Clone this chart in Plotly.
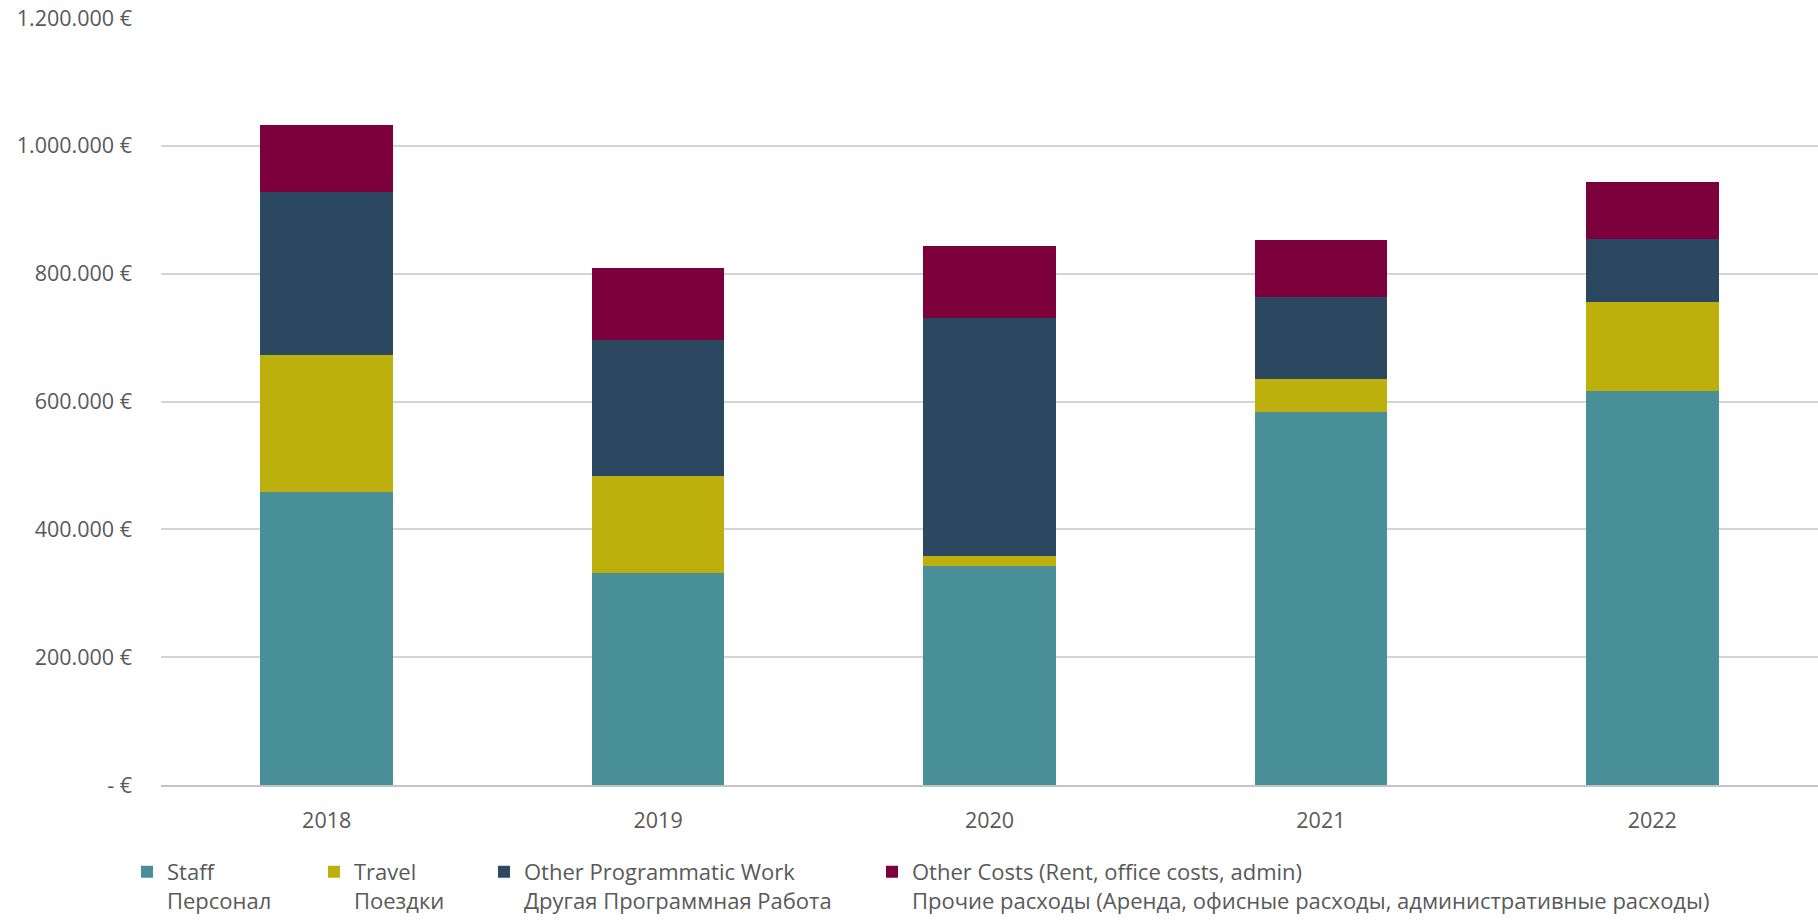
import plotly.graph_objects as go

years = ["2018", "2019", "2020", "2021", "2022"]
staff = [459000, 331000, 343000, 584000, 616000]
travel = [213000, 152000, 15000, 51000, 139000]
other_prog = [255000, 213000, 372000, 129000, 100000]
other_costs = [105000, 113000, 113000, 89000, 89000]

series_names = [
    "Staff<br>Персонал",
    "Travel<br>Поездки",
    "Other Programmatic Work<br>Другая Программная Работа",
    "Other Costs (Rent, office costs, admin)<br>Прочие расходы (Аренда, офисные расходы, административные расходы)",
]
series_colors = ["#488F98", "#BDB00C", "#2C4760", "#7B003C"]

y_tickvals = [0, 200000, 400000, 600000, 800000, 1000000, 1200000]
y_ticktext = ["- €", "200.000 €", "400.000 €", "600.000 €", "800.000 €", "1.000.000 €", "1.200.000 €"]

W, H = 1818, 922
ML, MR, MT, MB = 161, 0, 18, 135
plot_w = W - ML - MR
plot_h = H - MT - MB

# legend text start positions (pixels) for each entry
legend_text_x = [167, 354, 524, 912]
legend_keys = ["legend", "legend2", "legend3", "legend4"]

fig = go.Figure()
for vals, name, col, lk in zip([staff, travel, other_prog, other_costs], series_names, series_colors, legend_keys):
    fig.add_trace(go.Bar(
        x=years, y=vals, name=name, legend=lk,
        marker=dict(color=col, line=dict(width=0)),
    ))

font_fam = "Open Sans, Segoe UI, sans-serif"
layout_legends = {}
for lk, tx in zip(legend_keys, legend_text_x):
    layout_legends[lk] = dict(
        x=(tx - 40 - ML) / plot_w, xanchor="left",
        y=(MT + plot_h - 853) / plot_h, yanchor="top",
        yref="paper", xref="paper",
        orientation="h", valign="top",
        font=dict(family=font_fam, size=22, color="#595959"),
        bgcolor="rgba(0,0,0,0)", borderwidth=0,
        itemclick=False,
    )

fig.update_layout(
    width=W, height=H,
    margin=dict(l=ML, r=MR, t=MT, b=MB, pad=0),
    barmode="stack",
    bargap=0.6,
    plot_bgcolor="white", paper_bgcolor="white",
    font=dict(family=font_fam, size=21, color="#595959"),
    showlegend=True,
    **layout_legends,
)
fig.update_yaxes(
    range=[0, 1200000],
    tickvals=y_tickvals, ticktext=y_ticktext,
    showgrid=True, gridcolor="#d4d4d4", gridwidth=2,
    zeroline=False, showline=False,
    ticks="", ticklabelstandoff=28,
    tickfont=dict(family=font_fam, size=21.5, color="#595959"),
)
fig.update_xaxes(
    showline=True, linecolor="#c4c4c4", linewidth=2,
    ticks="", showgrid=False,
    tickfont=dict(family=font_fam, size=21.5, color="#595959"),
    ticklabelstandoff=15,
)

fig.write_html("out.html")
